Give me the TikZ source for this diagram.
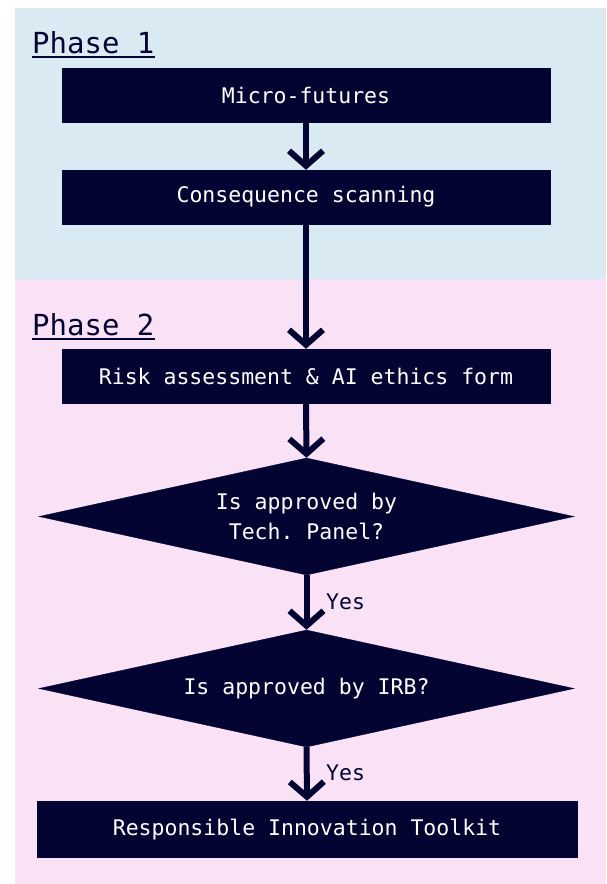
\documentclass[tikz,border=0pt]{standalone}
\usepackage{fontspec}
\setmonofont{DejaVu Sans Mono}
\usetikzlibrary{shapes.geometric,arrows.meta}
\definecolor{navy}{RGB}{4,4,50}
\definecolor{phaseblue}{RGB}{217,234,243}
\definecolor{phasepink}{RGB}{250,226,246}
\tikzset{
  stepbox/.style={rectangle, fill=navy, draw=navy, inner sep=0pt, minimum height=54pt,
    minimum width=488pt, text=white, font=\ttfamily\fontsize{21.5}{30}\selectfont},
  decision/.style={diamond, aspect=4.573, fill=navy, draw=navy, inner sep=0pt, minimum width=535pt,
    minimum height=117pt, text=white, align=center, font=\ttfamily\fontsize{21.5}{30}\selectfont},
  flow/.style={draw=navy, line width=6pt, -{Straight Barb[length=15pt,width=34pt]}},
  phaselabel/.style={inner sep=0pt, anchor=base west, text=navy, font=\ttfamily\fontsize{29}{34}\selectfont},
  yeslabel/.style={inner sep=0pt, anchor=base west, text=navy, font=\ttfamily\fontsize{21.5}{30}\selectfont},
  uline/.style={draw=navy, line width=1.4pt}
}
\begin{document}
\begin{tikzpicture}[x=1pt,y=1pt]
\useasboundingbox (0,0) rectangle (606,-884);
\fill[phaseblue] (15,-8) rectangle (606,-279);
\fill[phasepink] (15,-279) rectangle (606,-884);

\node[phaselabel] (p1) at (32,-53) {Phase 1};
\draw[uline] ([yshift=-4pt]p1.base west) -- ([yshift=-4pt]p1.base east);
\node[phaselabel] (p2) at (32,-335) {Phase 2};
\draw[uline] ([yshift=-4pt]p2.base west) -- ([yshift=-4pt]p2.base east);

\node[stepbox] (b1) at (306,-95) {Micro-futures};
\node[stepbox] (b2) at (306,-197) {Consequence scanning};
\node[stepbox] (b3) at (306,-376) {Risk assessment \& AI ethics form};
\node[decision] (d1) at (306.5,-516.5) {Is approved by\\Tech. Panel?};
\node[decision] (d2) at (306.5,-688.5) {Is approved by IRB?};
\node[stepbox, minimum width=540pt, minimum height=56pt] (b4) at (307,-829) {Responsible Innovation Toolkit};

\draw[flow] (b1.south) -- (b2.north);
\draw[flow] (b2.south) -- (b3.north);
\draw[flow] (b3.south) -- (d1.north);
\draw[flow] (d1.south) -- (d2.north);
\draw[flow] (d2.south) -- (b4.north);

\node[yeslabel] (y1) at (326,-609) {Yes};
\node[yeslabel] (y2) at (326,-780) {Yes};
\end{tikzpicture}
\end{document}
